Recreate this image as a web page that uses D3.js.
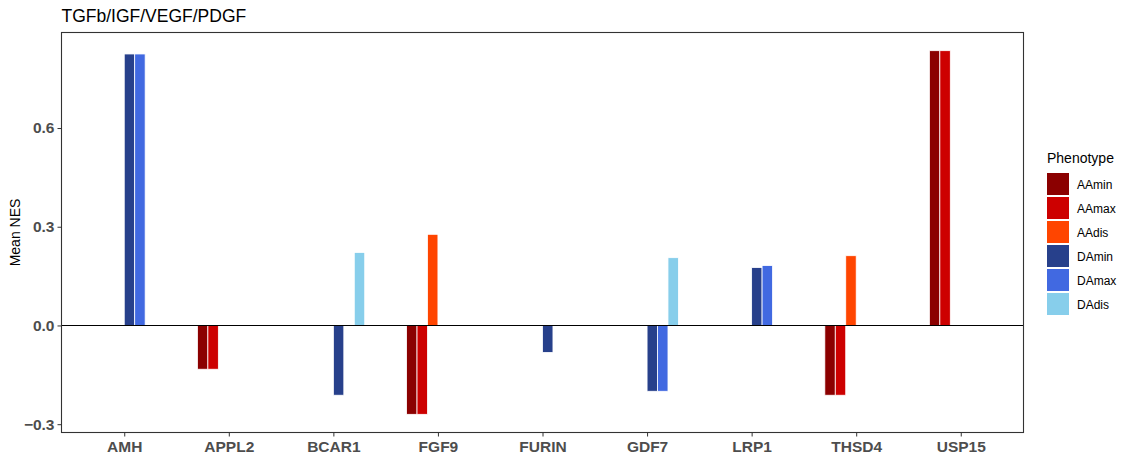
<!DOCTYPE html>
<html>
<head>
<meta charset="utf-8">
<script src="https://cdn.jsdelivr.net/npm/d3@7"></script>
<style>
  body { margin: 0; background: #fff; }
  svg { font-family: "Liberation Sans", Arial, sans-serif; }
</style>
</head>
<body>
<svg id="chart" width="1125" height="461"></svg>
<script>
// Genes on the x axis
const categories = ["AMH", "APPL2", "BCAR1", "FGF9", "FURIN", "GDF7", "LRP1", "THSD4", "USP15"];
// Phenotype groups (dodged within each gene)
const phenotypes = ["AAmin", "AAmax", "AAdis", "DAmin", "DAmax", "DAdis"];
const phenoColors = ["#8B0000", "#CD0000", "#FF4500", "#27408B", "#4169E1", "#87CEEB"];

// Mean NES per phenotype, aligned with categories (null = no bar)
const AAmin = [null, -0.133, null, -0.270, null, null, null, -0.212, 0.835];
const AAmax = [null, -0.133, null, -0.270, null, null, null, -0.212, 0.835];
const AAdis = [null, null, null, 0.277, null, null, null, 0.212, null];
const DAmin = [0.825, null, -0.212, null, -0.082, -0.200, 0.176, null, null];
const DAmax = [0.825, null, null, null, null, -0.200, 0.182, null, null];
const DAdis = [null, null, 0.222, null, null, 0.206, null, null, null];

const yTicks = [-0.3, 0.0, 0.3, 0.6];
const titleText = "TGFb/IGF/VEGF/PDGF";
const yTitle = "Mean NES";
const legendTitle = "Phenotype";

const seriesValues = { AAmin, AAmax, AAdis, DAmin, DAmax, DAdis };
const rows = [];
phenotypes.forEach((p, pi) => {
  seriesValues[p].forEach((v, ci) => {
    if (v !== null) rows.push({ gene: categories[ci], pheno: p, pi, value: v });
  });
});

const svg = d3.select("#chart");
const panel = { left: 61.5, right: 1023.5, top: 32.5, bottom: 432.5 };

// continuous y with 5% expansion
const allVals = rows.map(d => d.value).concat([0]);
const yMin = d3.min(allVals), yMax = d3.max(allVals);
const pad = (yMax - yMin) * 0.05;
const y = d3.scaleLinear().domain([yMin - pad, yMax + pad]).range([panel.bottom, panel.top]);

// discrete x with 0.6 unit expansion on each side
const unit = (panel.right - panel.left) / (categories.length - 1 + 1.2);
const xCenter = d3.scalePoint().domain(categories)
  .range([panel.left + 0.6 * unit, panel.right - 0.6 * unit]);
const dodgeWidth = 0.6 * unit;
const xSub = d3.scaleBand().domain(phenotypes).range([-dodgeWidth / 2, dodgeWidth / 2]);

const g = svg.append("g");

// bars
g.selectAll("rect.bar").data(rows).enter().append("rect")
  .attr("class", "bar")
  .attr("x", d => xCenter(d.gene) + xSub(d.pheno))
  .attr("width", xSub.bandwidth())
  .attr("y", d => Math.min(y(d.value), y(0)))
  .attr("height", d => Math.abs(y(d.value) - y(0)))
  .attr("fill", d => phenoColors[d.pi])
  .attr("stroke", "#fff")
  .attr("stroke-width", 0.8);

// zero reference line
g.append("line")
  .attr("x1", panel.left).attr("x2", panel.right)
  .attr("y1", y(0)).attr("y2", y(0))
  .attr("stroke", "#000").attr("stroke-width", 1.1);

// panel border
g.append("rect")
  .attr("x", panel.left).attr("y", panel.top)
  .attr("width", panel.right - panel.left).attr("height", panel.bottom - panel.top)
  .attr("fill", "none").attr("stroke", "#333").attr("stroke-width", 1.1);

// y axis
const yAxis = d3.axisLeft(y).tickValues(yTicks).tickFormat(d3.format(".1f")).tickSize(4).tickPadding(3);
const ya = g.append("g").attr("transform", `translate(${panel.left},0)`).call(yAxis);
ya.select(".domain").remove();
ya.selectAll(".tick line").attr("stroke", "#333");
ya.selectAll(".tick text").attr("fill", "#4D4D4D").attr("font-size", 15.5).attr("font-weight", "bold")
  .attr("font-family", "Liberation Sans, Arial, sans-serif");

// x axis
const xAxis = d3.axisBottom(xCenter).tickSize(4).tickPadding(4);
const xa = g.append("g").attr("transform", `translate(0,${panel.bottom})`).call(xAxis);
xa.select(".domain").remove();
xa.selectAll(".tick line").attr("stroke", "#333");
xa.selectAll(".tick text").attr("fill", "#4D4D4D").attr("font-size", 15.5).attr("font-weight", "bold")
  .attr("font-family", "Liberation Sans, Arial, sans-serif");

// title
svg.append("text").attr("x", panel.left).attr("y", 22)
  .attr("font-size", 17.5).attr("fill", "#000").text(titleText);

// y axis title
svg.append("text")
  .attr("transform", `translate(20,${(panel.top + panel.bottom) / 2}) rotate(-90)`)
  .attr("text-anchor", "middle").attr("font-size", 14).attr("fill", "#000").text(yTitle);

// legend
const leg = svg.append("g").attr("transform", "translate(1047,0)");
leg.append("text").attr("x", 0).attr("y", 163).attr("font-size", 14).attr("fill", "#000").text(legendTitle);
phenotypes.forEach((p, i) => {
  const top = 173 + i * 24;
  leg.append("rect").attr("x", 0).attr("y", top).attr("width", 22).attr("height", 22)
    .attr("fill", phenoColors[i]);
  leg.append("text").attr("x", 30).attr("y", top + 15.5).attr("font-size", 12).attr("fill", "#000").text(p);
});
</script>
</body>
</html>
